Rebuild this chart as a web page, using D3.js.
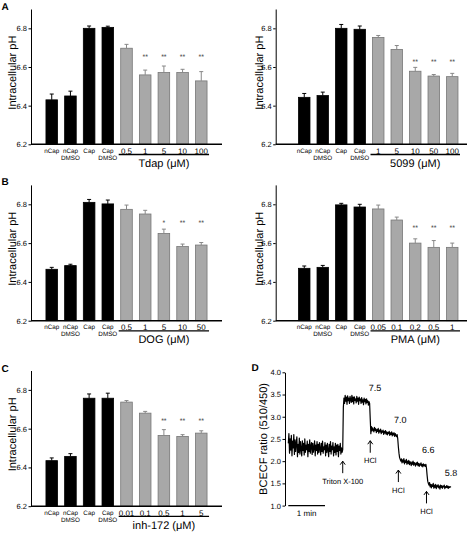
<!DOCTYPE html>
<html><head><meta charset="utf-8">
<script src="https://cdn.jsdelivr.net/npm/d3@7"></script>
<style>
body{margin:0;background:#fff}
svg{display:block}
text{font-family:"Liberation Sans",Arial,Helvetica,sans-serif;text-rendering:geometricPrecision}
</style>
</head><body>
<svg id="chart" width="470" height="533"></svg>
<script>
// ---------- DATA ----------
const controlLabels = [["nCap"], ["nCap", "DMSO"], ["Cap"], ["Cap", "DMSO"]];
const pHTicks = [6.2, 6.4, 6.6, 6.8];
const pHDomain = [6.2, 6.9];

const tdapDoses = ["0.5", "1", "5", "10", "100"];
const tdapMeans = [6.430, 6.450, 6.800, 6.805, 6.697, 6.559, 6.571, 6.571, 6.528];
const tdapErrors = [0.030, 0.025, 0.012, 0.006, 0.020, 0.025, 0.034, 0.017, 0.048];
const tdapStars = ["", "", "", "", "", "**", "**", "**", "**"];
const tdapStarLevel = 6.662;

const c5099Doses = ["1", "5", "10", "50", "100"];
const c5099Means = [6.443, 6.452, 6.800, 6.795, 6.753, 6.691, 6.578, 6.553, 6.550];
const c5099Errors = [0.020, 0.018, 0.020, 0.017, 0.010, 0.020, 0.020, 0.008, 0.017];
const c5099Stars = ["", "", "", "", "", "", "**", "**", "**"];
const c5099StarLevel = 6.636;

const dogDoses = ["0.5", "1", "5", "10", "50"];
const dogMeans = [6.465, 6.484, 6.810, 6.802, 6.774, 6.750, 6.650, 6.582, 6.590];
const dogErrors = [0.010, 0.007, 0.015, 0.020, 0.022, 0.019, 0.022, 0.013, 0.013];
const dogStars = ["", "", "", "", "", "", "*", "**", "**"];
const dogStarLevel = 6.710;

const pmaDoses = ["0.05", "0.1", "0.2", "0.5", "1"];
const pmaMeans = [6.470, 6.475, 6.797, 6.786, 6.776, 6.719, 6.600, 6.578, 6.578];
const pmaErrors = [0.012, 0.010, 0.008, 0.014, 0.020, 0.015, 0.022, 0.035, 0.022];
const pmaStars = ["", "", "", "", "", "", "**", "**", "**"];
const pmaStarLevel = 6.685;

const inhDoses = ["0.01", "0.1", "0.5", "1", "5"];
const inhMeans = [6.435, 6.457, 6.757, 6.757, 6.737, 6.680, 6.565, 6.560, 6.577];
const inhErrors = [0.014, 0.014, 0.022, 0.026, 0.008, 0.009, 0.030, 0.009, 0.012];
const inhStars = ["", "", "", "", "", "", "**", "**", "**"];
const inhStarLevel = 6.646;

// Panel D: BCECF ratio trace, one reading per second
const traceStepSec = 1;
const traceRatio = [
  // baseline (0-89 s)
  2.40, 2.62, 2.18, 2.50, 2.25, 2.58, 2.12, 2.45, 2.30, 2.60,
  2.15, 2.48, 2.22, 2.40, 2.55, 2.10, 2.38, 2.20, 2.52, 2.16,
  2.44, 2.28, 2.12, 2.46, 2.24, 2.40, 2.14, 2.50, 2.20, 2.36,
  2.26, 2.45, 2.10, 2.38, 2.22, 2.48, 2.18, 2.34, 2.42, 2.15,
  2.40, 2.20, 2.30, 2.46, 2.12, 2.36, 2.24, 2.44, 2.16, 2.38,
  2.20, 2.42, 2.28, 2.14, 2.40, 2.22, 2.45, 2.18, 2.32, 2.26,
  2.42, 2.12, 2.36, 2.20, 2.40, 2.25, 2.10, 2.38, 2.22, 2.44,
  2.16, 2.34, 2.26, 2.42, 2.12, 2.32, 2.20, 2.40, 2.14, 2.36,
  2.22, 2.38, 2.10, 2.34, 2.24, 2.40, 2.16, 2.30, 2.20, 2.26,
  // Triton X-100 (90-133 s)
  3.20, 3.42, 3.30, 3.48, 3.35, 3.44, 3.28, 3.47, 3.36, 3.42,
  3.30, 3.46, 3.38, 3.32, 3.48, 3.34, 3.44, 3.29, 3.45, 3.37,
  3.40, 3.31, 3.46, 3.35, 3.42, 3.28, 3.44, 3.36, 3.40, 3.30,
  3.43, 3.33, 3.38, 3.27, 3.42, 3.34, 3.39, 3.29, 3.40, 3.32,
  3.36, 3.26, 3.34, 3.30,
  // HCl 1 (134-178 s)
  2.95, 2.62,
  2.78, 2.68, 2.75, 2.70, 2.66, 2.76, 2.69, 2.73, 2.64, 2.71,
  2.67, 2.74, 2.63, 2.70, 2.66, 2.72, 2.62, 2.68, 2.65, 2.70,
  2.60, 2.67, 2.63, 2.69, 2.61, 2.66, 2.59, 2.65, 2.62, 2.67,
  2.58, 2.64, 2.60, 2.66, 2.57, 2.63, 2.59, 2.64, 2.56, 2.62,
  2.58, 2.55, 2.60,
  // HCl 2 (179-225 s)
  2.50, 2.32, 2.18, 2.08, 2.04, 2.00,
  2.05, 1.96, 2.03, 1.98, 2.06, 1.94, 2.01, 1.97, 2.04, 1.93,
  2.00, 1.95, 2.02, 1.92, 1.99, 1.96, 1.90, 1.98, 1.93, 2.00,
  1.91, 1.97, 1.94, 1.89, 1.96, 1.92, 1.98, 1.90, 1.95, 1.88,
  1.94, 1.91, 1.96, 1.89, 1.93, 1.87, 1.94, 1.90, 1.92, 1.88, 1.93,
  // HCl 3 (226-266 s)
  1.84, 1.68, 1.55, 1.50,
  1.46, 1.52, 1.42, 1.48, 1.40, 1.47, 1.43, 1.50, 1.39, 1.46,
  1.41, 1.48, 1.38, 1.45, 1.42, 1.47, 1.40, 1.44, 1.37, 1.46,
  1.41, 1.45, 1.39, 1.44, 1.42, 1.46, 1.38, 1.43, 1.41, 1.45,
  1.40, 1.44, 1.39, 1.43, 1.41, 1.42, 1.43
];
const ratioTicks = [1.0, 1.5, 2.0, 2.5, 3.0, 3.5, 4.0];
const ratioDomain = [1.0, 4.0];
const timeDomainSec = [0, 270];
const scaleBarSec = 60;
const scaleBarLabel = "1 min";
const arrowTimes = [89, 134, 180, 226];
const arrowTipRatio = [2.00, 2.46, 1.80, 1.32];
const arrowLabels = ["Triton X-100", "HCl", "HCl", "HCl"];
const phLabels = ["7.5", "7.0", "6.6", "5.8"];
const phLabelTime = [142, 183, 229, 266];
const phLabelRatio = [3.64, 2.93, 2.25, 1.74];

// ---------- DRAW ----------
const svg = d3.select("#chart");
const FONT = '"Liberation Sans",Arial,Helvetica,sans-serif';

function barPanel(cfg, doses, means, errs, stars, starLevel, groupName) {
  const g = svg.append("g");
  const cats = controlLabels.map(d => d.join(" ")).concat(doses);
  const x = d3.scaleBand().domain(cats).range([cfg.bandStart, cfg.bandEnd])
    .paddingInner(0.38).paddingOuter(0.19);
  const y = d3.scaleLinear().domain(pHDomain).range([cfg.yBottom, cfg.yTop]);
  const data = cats.map((c, i) => ({c, i, v: means[i], e: errs[i], s: stars[i], treat: i >= controlLabels.length}));

  g.selectAll("rect.bar").data(data).join("rect")
    .attr("x", d => x(d.c)).attr("width", x.bandwidth())
    .attr("y", d => y(d.v)).attr("height", d => y(pHDomain[0]) - y(d.v))
    .attr("fill", d => d.treat ? "#a8a8a8" : "#000")
    .attr("stroke", d => d.treat ? "#777" : "#000").attr("stroke-width", 0.8);

  const cap = 2;
  data.forEach(d => {
    const cx = x(d.c) + x.bandwidth() / 2;
    const col = d.treat ? "#888" : "#000";
    g.append("line").attr("x1", cx).attr("x2", cx).attr("y1", y(d.v)).attr("y2", y(d.v + d.e))
      .attr("stroke", col).attr("stroke-width", 1);
    g.append("line").attr("x1", cx - cap).attr("x2", cx + cap).attr("y1", y(d.v + d.e)).attr("y2", y(d.v + d.e))
      .attr("stroke", col).attr("stroke-width", 1);
  });

  g.selectAll("text.star").data(data.filter(d => d.s)).join("text")
    .attr("x", d => x(d.c) + x.bandwidth() / 2).attr("y", y(starLevel) + 3.5)
    .attr("text-anchor", "middle").attr("font-size", 7).attr("fill", "#333").text(d => d.s);

  const ya = g.append("g").attr("transform", `translate(${cfg.axisX},0)`)
    .call(d3.axisLeft(y).tickValues(pHTicks).tickFormat(d3.format(".1f")).tickSize(2.5).tickSizeOuter(0).tickPadding(1.5));
  ya.selectAll("text").attr("font-size", 7.5).attr("font-family", FONT).attr("fill", "#000");
  ya.select(".domain").attr("stroke-width", 1);

  g.append("line").attr("x1", cfg.axisX).attr("x2", cfg.axisEnd)
    .attr("y1", cfg.yBottom).attr("y2", cfg.yBottom).attr("stroke", "#000").attr("stroke-width", 1.6);

  controlLabels.forEach((lines, i) => {
    const cx = x(cats[i]) + x.bandwidth() / 2;
    lines.forEach((t, k) => {
      g.append("text").attr("x", cx).attr("y", cfg.yBottom + 8.6 + k * 7)
        .attr("text-anchor", "middle").attr("font-size", 6.3).attr("fill", "#000").text(t);
    });
  });
  doses.forEach(dz => {
    g.append("text").attr("x", x(dz) + x.bandwidth() / 2).attr("y", cfg.yBottom + 9.3)
      .attr("text-anchor", "middle").attr("font-size", 8).text(dz);
  });
  const first = doses[0], last = doses[doses.length - 1];
  const ux0 = x(first) - 2, ux1 = x(last) + x.bandwidth() + 2;
  g.append("line").attr("x1", ux0).attr("x2", ux1)
    .attr("y1", cfg.yBottom + 10.2).attr("y2", cfg.yBottom + 10.2).attr("stroke", "#000").attr("stroke-width", 1.3);
  g.append("text").attr("x", (ux0 + ux1) / 2).attr("y", cfg.yBottom + 22.5)
    .attr("text-anchor", "middle").attr("font-size", 11).text(groupName);

  const ly = (cfg.yTop + cfg.yBottom) / 2 - 4;
  g.append("text").attr("transform", `translate(${cfg.labelX},${ly}) rotate(-90)`)
    .attr("text-anchor", "middle").attr("font-size", 11).text("Intracellular pH");

  if (cfg.letter) {
    g.append("text").attr("x", 1.5).attr("y", cfg.letterY).attr("font-size", 10)
      .attr("font-weight", "bold").text(cfg.letter);
  }
}

const left = {axisX: 31, bandStart: 42.4, bandEnd: 210.6, axisEnd: 222, labelX: 15.5};
const right = {axisX: 275.7, bandStart: 295, bandEnd: 461.5, axisEnd: 467, labelX: 262.5};

barPanel(Object.assign({}, left, {yTop: 9, yBottom: 144.3, letter: "A", letterY: 10}),
  tdapDoses, tdapMeans, tdapErrors, tdapStars, tdapStarLevel, "Tdap (\u03bcM)");
barPanel(Object.assign({}, right, {yTop: 9, yBottom: 144.3}),
  c5099Doses, c5099Means, c5099Errors, c5099Stars, c5099StarLevel, "5099 (\u03bcM)");
barPanel(Object.assign({}, left, {yTop: 184.9, yBottom: 320.7, letter: "B", letterY: 185}),
  dogDoses, dogMeans, dogErrors, dogStars, dogStarLevel, "DOG (\u03bcM)");
barPanel(Object.assign({}, right, {yTop: 184.9, yBottom: 320.7}),
  pmaDoses, pmaMeans, pmaErrors, pmaStars, pmaStarLevel, "PMA (\u03bcM)");
barPanel(Object.assign({}, left, {yTop: 370.5, yBottom: 506.2, letter: "C", letterY: 371.5}),
  inhDoses, inhMeans, inhErrors, inhStars, inhStarLevel, "inh-172 (\u03bcM)");

// ---------- Panel D ----------
(function () {
  const g = svg.append("g");
  const axisX = 285;
  const x = d3.scaleLinear().domain(timeDomainSec).range([288.3, 453.4]);
  const y = d3.scaleLinear().domain(ratioDomain).range([505.6, 372.3]);

  const ya = g.append("g").attr("transform", `translate(${axisX},0)`)
    .call(d3.axisLeft(y).tickValues(ratioTicks).tickFormat(d3.format(".1f")).tickSize(2.5).tickSizeOuter(0).tickPadding(1.5));
  ya.selectAll("text").attr("font-size", 7.5).attr("font-family", FONT).attr("fill", "#000");

  g.append("text").attr("transform", `translate(267,${(372.3 + 505.6) / 2}) rotate(-90)`)
    .attr("text-anchor", "middle").attr("font-size", 11).text("BCECF ratio (510/450)");

  const line = d3.line().x((d, i) => x(i * traceStepSec)).y(d => y(d));
  g.append("path").datum(traceRatio).attr("d", line)
    .attr("fill", "none").attr("stroke", "#000").attr("stroke-width", 1.2).attr("stroke-linejoin", "round");

  g.append("line").attr("x1", x(0)).attr("x2", x(scaleBarSec)).attr("y1", y(1.0)).attr("y2", y(1.0))
    .attr("stroke", "#000").attr("stroke-width", 1.4);
  g.append("text").attr("x", (x(0) + x(scaleBarSec)) / 2).attr("y", y(1.0) + 10.5)
    .attr("text-anchor", "middle").attr("font-size", 8).text(scaleBarLabel);

  const aLen = 12;
  arrowTimes.forEach((t, i) => {
    const ax = x(t), ty = y(arrowTipRatio[i]);
    g.append("line").attr("x1", ax).attr("x2", ax).attr("y1", ty).attr("y2", ty + aLen)
      .attr("stroke", "#000").attr("stroke-width", 1);
    g.append("path").attr("d", `M${ax - 2.5},${ty + 3.5}L${ax},${ty}L${ax + 2.5},${ty + 3.5}`)
      .attr("fill", "none").attr("stroke", "#000").attr("stroke-width", 1);
    g.append("text").attr("x", ax).attr("y", ty + aLen + 10.5)
      .attr("text-anchor", "middle").attr("font-size", 7.5).text(arrowLabels[i]);
  });

  phLabels.forEach((t, i) => {
    g.append("text").attr("x", x(phLabelTime[i])).attr("y", y(phLabelRatio[i]) + 3.2)
      .attr("text-anchor", "middle").attr("font-size", 9).text(t);
  });

  g.append("text").attr("x", 251.5).attr("y", 370.5).attr("font-size", 10)
    .attr("font-weight", "bold").text("D");
})();
</script>
</body></html>
